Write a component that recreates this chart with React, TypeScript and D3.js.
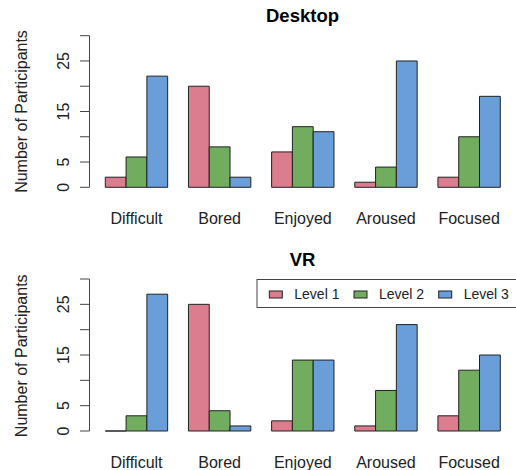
import React from 'react';
import { scaleBand, scaleLinear, range } from 'd3';

const categories = ['Difficult', 'Bored', 'Enjoyed', 'Aroused', 'Focused'];
const levels = ['Level 1', 'Level 2', 'Level 3'];
const colors = ['#DC7C8F', '#72AC5F', '#6A9ED9'];

// rows = categories, columns = level 1..3
const desktop = [
  [2, 6, 22],
  [20, 8, 2],
  [7, 12, 11],
  [1, 4, 25],
  [2, 10, 18],
];
const vr = [
  [0, 3, 27],
  [25, 4, 1],
  [2, 14, 14],
  [1, 8, 21],
  [3, 12, 15],
];
const tickValues = [0, 5, 10, 15, 20, 25, 30];
const labelledTicks = [0, 5, 15, 25];

const font = '"Liberation Sans", Arial, Helvetica, sans-serif';

const x0 = scaleBand<string>()
  .domain(categories)
  .range([105.3, 500.3])
  .paddingInner(0.25)
  .paddingOuter(0);
const x1 = scaleBand<string>().domain(levels).range([0, x0.bandwidth()]).padding(0);

function Panel({ title, data, top, bottom, titleY, labelY, ylabY }: any) {
  const y = scaleLinear().domain([0, 30]).range([bottom, top]);
  return (
    <g>
      <text x={302.5} y={titleY} textAnchor="middle" fontWeight="bold" fontSize={18.5} fontFamily={font}>
        {title}
      </text>
      <text
        transform={`translate(26.5,${ylabY}) rotate(-90)`}
        textAnchor="middle"
        fontSize={16}
        fontFamily={font}
        fill="#222"
      >
        Number of Participants
      </text>
      <line x1={89.5} x2={89.5} y1={y(0)} y2={y(30)} stroke="#444" />
      {tickValues.map((t) => (
        <g key={t}>
          <line x1={80} x2={89.5} y1={y(t)} y2={y(t)} stroke="#444" />
          {labelledTicks.includes(t) && (
            <text
              transform={`translate(68.5,${y(t)}) rotate(-90)`}
              textAnchor="middle"
              fontSize={16}
              fontFamily={font}
              fill="#222"
            >
              {t}
            </text>
          )}
        </g>
      ))}
      {categories.map((c, i) => (
        <g key={c} transform={`translate(${x0(c)},0)`}>
          {levels.map((l, j) => {
            const xa = x1(l)!;
            const xb = xa + x1.bandwidth();
            const ya = y(0);
            const yb = y(data[i][j]);
            return (
              <path
                key={l}
                d={`M${xa},${ya}H${xb}V${yb}H${xa}Z`}
                fill={colors[j]}
                stroke="#222"
                strokeWidth={1}
              />
            );
          })}
          <text
            x={x0.bandwidth() / 2}
            y={labelY}
            textAnchor="middle"
            fontSize={16}
            fontFamily={font}
            fill="#222"
          >
            {c}
          </text>
        </g>
      ))}
    </g>
  );
}

function Legend() {
  const keyX = range(levels.length).map((i) => 269.3 + i * 84.7);
  return (
    <g>
      <rect x={257} y={279.5} width={262} height={28} fill="white" stroke="#444" />
      {levels.map((l, i) => (
        <g key={l}>
          <rect x={keyX[i]} y={291} width={13} height={7} fill={colors[i]} stroke="#222" />
          <text x={keyX[i] + 25} y={299} fontSize={14} fontFamily={font} fill="#222">
            {l}
          </text>
        </g>
      ))}
    </g>
  );
}

export default function App() {
  return (
    <svg
      width={516}
      height={470}
      style={{ position: 'absolute', left: 0, top: 0, background: 'white' }}
    >
      <Panel title="Desktop" data={desktop} top={35.7} bottom={187.3} titleY={22} labelY={224} ylabY={111.5} />
      <Panel title="VR" data={vr} top={279} bottom={431} titleY={266} labelY={467.5} ylabY={355.8} />
      <Legend />
    </svg>
  );
}
